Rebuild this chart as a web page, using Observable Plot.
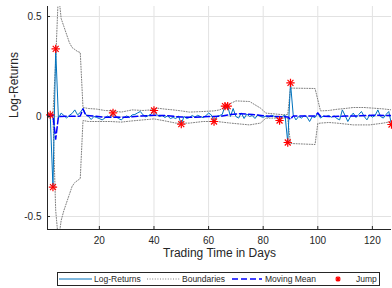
<!DOCTYPE html>
<html>
<head>
<meta charset="utf-8">
<script src="https://cdn.jsdelivr.net/npm/d3@7"></script>
<script src="https://cdn.jsdelivr.net/npm/@observablehq/plot@0.6"></script>
<style>
  html, body { margin: 0; padding: 0; background: #fff; }
  #wrap { position: relative; width: 392px; height: 288px; font-family: "Liberation Sans", Arial, sans-serif; }
  #legend { position: absolute; left: 57px; top: 272px; }
</style>
</head>
<body>
<div id="wrap"><div id="chart"></div><div id="legend"></div></div>
<script>
// ---- data ----
const logReturns = [
  0.005, 0.008, -0.353, 0.338, -0.008, 0.017, 0.005, -0.008, 0.006, 0.015,
  0.033, 0.008, 0.02, 0.04, 0.01, 0.0, -0.015, 0.0, -0.005, -0.01,
  -0.017, -0.008, 0.002, -0.005, 0.018, 0.0, -0.01, -0.017, -0.005, 0.003,
  -0.005, 0.008, 0.01, 0.018, 0.025, 0.008, -0.002, 0.005, 0.012, 0.03,
  0.01, 0.0, 0.005, -0.005, 0.003, -0.01, -0.005, -0.01, 0.002, -0.038,
  0.0, -0.01, -0.005, 0.005, -0.003, 0.006, 0.0, -0.006, 0.004, 0.017,
  0.008, -0.025, 0.0, 0.005, 0.01, 0.052, 0.052, 0.0, 0.04, 0.0,
  -0.008, 0.018, -0.01, 0.012, 0.0, 0.005, -0.01, 0.008, 0.0, -0.004,
  0.002, -0.003, 0.006, 0.002, -0.005, -0.02, 0.0, 0.008, -0.13, 0.168,
  0.008, -0.017, 0.0, -0.008, 0.004, -0.002, -0.025, 0.0, -0.005, 0.017,
  -0.008, 0.002, 0.0, 0.005, -0.004, 0.003, -0.01, -0.017, 0.033, 0.005,
  -0.025, 0.0, 0.017, -0.005, 0.01, 0.025, 0.0, -0.017, 0.008, -0.003,
  0.005, 0.033, 0.0, -0.008, 0.01, 0.025, -0.04
];
const days = logReturns.map((_, i) => i + 1);

const upperDays = [1,2,3,4,5,6,7,8,9,10,11,12,13,14,16,19,22,25,28,32,36,39,41,44,47,50,53,58,62,64,66,68,70,75,79,81,88,89,90,99,101,104,107,110,113,117,120,124,127];
const upperVals = [0.012,0.015,0.012,0.28,0.62,0.49,0.45,0.41,0.37,0.345,0.335,0.325,0.32,0.045,0.04,0.037,0.03,0.028,0.022,0.033,0.03,0.033,0.042,0.037,0.033,0.028,0.022,0.025,0.028,0.033,0.045,0.065,0.078,0.075,0.042,0.017,0.008,0.01,0.142,0.14,0.028,0.03,0.036,0.04,0.045,0.045,0.042,0.038,0.033];

const lowerDays = [1,2,3,4,5,6,7,8,9,10,11,12,13,14,16,19,24,28,32,36,40,44,48,53,58,63,68,75,79,81,88,89,90,99,100,101,104,107,113,119,124,127];
const lowerVals = [-0.002,-0.004,0.0,-0.47,-0.62,-0.52,-0.47,-0.43,-0.39,-0.35,-0.33,-0.32,-0.31,-0.02,-0.025,-0.025,-0.025,-0.028,-0.022,-0.017,-0.012,-0.022,-0.033,-0.033,-0.025,-0.025,-0.033,-0.042,-0.033,-0.008,-0.008,-0.01,-0.135,-0.14,-0.035,-0.033,-0.03,-0.033,-0.042,-0.042,-0.033,-0.025];

const meanDays = [1,2,3,4,5,8,13,14,15,18,22,26,30,35,40,45,50,55,60,65,68,72,76,80,85,89,90,91,95,99,100,101,105,110,115,120,127];
const meanVals = [0.005,0.005,0.007,-0.113,-0.001,0.001,0.002,0.038,0.006,0.002,-0.004,-0.003,-0.004,0.002,0.006,0.004,-0.003,-0.004,0.0,0.002,0.01,0.014,0.01,0.004,0.0,-0.002,-0.014,0.003,0.002,0.002,0.018,0.001,0.0,0.002,0.003,0.006,0.005];

const jumpDays = [2,3,4,25,40,50,62,66,67,86,89,90,127];
const jumpVals = [0.008,-0.353,0.338,0.018,0.03,-0.038,-0.025,0.052,0.052,-0.02,-0.13,0.168,-0.04];

const xDomain = [1, 127];
const yDomain = [-0.565, 0.55];
const xTicks = [20, 40, 60, 80, 100, 120];
const yTicks = [-0.5, 0, 0.5];
const xLabel = "Trading Time in Days";
const yLabel = "Log-Returns";
const legendLabels = ["Log-Returns", "Boundaries", "Moving Mean", "Jump"];

// ---- colours ----
const cReturns = "#0072BD", cBound = "#707070", cMean = "#0000ff", cJump = "#ff0000", cAxis = "#262626";

const pts = (xs, ys) => xs.map((x, i) => ({x, y: ys[i]}));

const chart = Plot.plot({
  width: 392, height: 268,
  marginTop: 6, marginBottom: 39, marginLeft: 47, marginRight: 1,
  style: {fontFamily: "Liberation Sans, Arial, sans-serif", fontSize: "10px", color: cAxis, background: "#fff"},
  x: {domain: xDomain},
  y: {domain: yDomain},
  marks: [
    Plot.gridX(xTicks, {stroke: "#e2e2e2", strokeOpacity: 1}),
    Plot.gridY(yTicks, {stroke: "#e2e2e2", strokeOpacity: 1}),
    Plot.line(pts(upperDays, upperVals), {x: "x", y: "y", stroke: cBound, strokeWidth: 0.9, strokeDasharray: "1,1.6", clip: true}),
    Plot.line(pts(lowerDays, lowerVals), {x: "x", y: "y", stroke: cBound, strokeWidth: 0.9, strokeDasharray: "1,1.6", clip: true}),
    Plot.line(pts(days, logReturns), {x: "x", y: "y", stroke: cReturns, strokeWidth: 1, clip: true}),
    Plot.line(pts(meanDays, meanVals), {x: "x", y: "y", stroke: cMean, strokeWidth: 1.5, strokeDasharray: "6,3", clip: true}),
    Plot.dot(pts(jumpDays, jumpVals), {x: "x", y: "y", symbol: "plus", r: 2.8, stroke: cJump, strokeWidth: 1.2}),
    Plot.dot(pts(jumpDays, jumpVals), {x: "x", y: "y", symbol: "times", r: 2.8, stroke: cJump, strokeWidth: 1.2}),
    Plot.ruleX([xDomain[0]], {stroke: cAxis, strokeWidth: 1}),
    Plot.ruleY([yDomain[0]], {stroke: cAxis, strokeWidth: 1}),
    Plot.axisX(xTicks, {tickSize: 0, tickPadding: 7, label: null, fontSize: 10, tickFormat: d => String(d)}),
    Plot.axisX(xTicks, {tickSize: 3, text: null, label: null, dy: -3, stroke: cAxis}),
    Plot.axisY(yTicks, {tickSize: 0, tickPadding: 6, label: null, fontSize: 10, tickFormat: d => String(d)}),
    Plot.axisY(yTicks, {tickSize: 3, text: null, label: null, dx: 3, stroke: cAxis}),
    Plot.text([xLabel], {frameAnchor: "bottom", dy: 27, text: d => d, fontSize: 12, fill: cAxis}),
    Plot.text([yLabel], {frameAnchor: "left", dx: -33, rotate: -90, text: d => d, fontSize: 12, fill: cAxis})
  ]
});
document.getElementById("chart").appendChild(chart);

// ---- legend ----
const ns = "http://www.w3.org/2000/svg";
const lg = document.createElementNS(ns, "svg");
lg.setAttribute("width", 323); lg.setAttribute("height", 14);
lg.style.display = "block";
const mk = (tag, attrs) => { const e = document.createElementNS(ns, tag); for (const k in attrs) e.setAttribute(k, attrs[k]); lg.appendChild(e); return e; };
mk("rect", {x: 0.5, y: 0.5, width: 322, height: 13, fill: "#fff", stroke: cAxis, "stroke-width": 1});
const items = [
  {x0: 2, x1: 35, tx: 37, stroke: cReturns, dash: null, w: 1},
  {x0: 90, x1: 123, tx: 125, stroke: cBound, dash: "1,1.6", w: 0.9},
  {x0: 175, x1: 205, tx: 208, stroke: cMean, dash: "6,3", w: 1.5},
  {star: 281, tx: 299}
];
items.forEach((it, i) => {
  if (it.star !== undefined) {
    const r = 2.8;
    mk("path", {d: `M${it.star - r},7H${it.star + r}M${it.star},${7 - r}V${7 + r}M${it.star - r*0.72},${7 - r*0.72}L${it.star + r*0.72},${7 + r*0.72}M${it.star - r*0.72},${7 + r*0.72}L${it.star + r*0.72},${7 - r*0.72}`, stroke: cJump, "stroke-width": 1.2, fill: "none"});
  } else {
    const l = mk("line", {x1: it.x0, x2: it.x1, y1: 7, y2: 7, stroke: it.stroke, "stroke-width": it.w});
    if (it.dash) l.setAttribute("stroke-dasharray", it.dash);
  }
  const t = mk("text", {x: it.tx, y: 10, "font-size": 8.5, fill: cAxis, "font-family": "Liberation Sans, Arial, sans-serif"});
  t.textContent = legendLabels[i];
});
document.getElementById("legend").appendChild(lg);
</script>
</body>
</html>
